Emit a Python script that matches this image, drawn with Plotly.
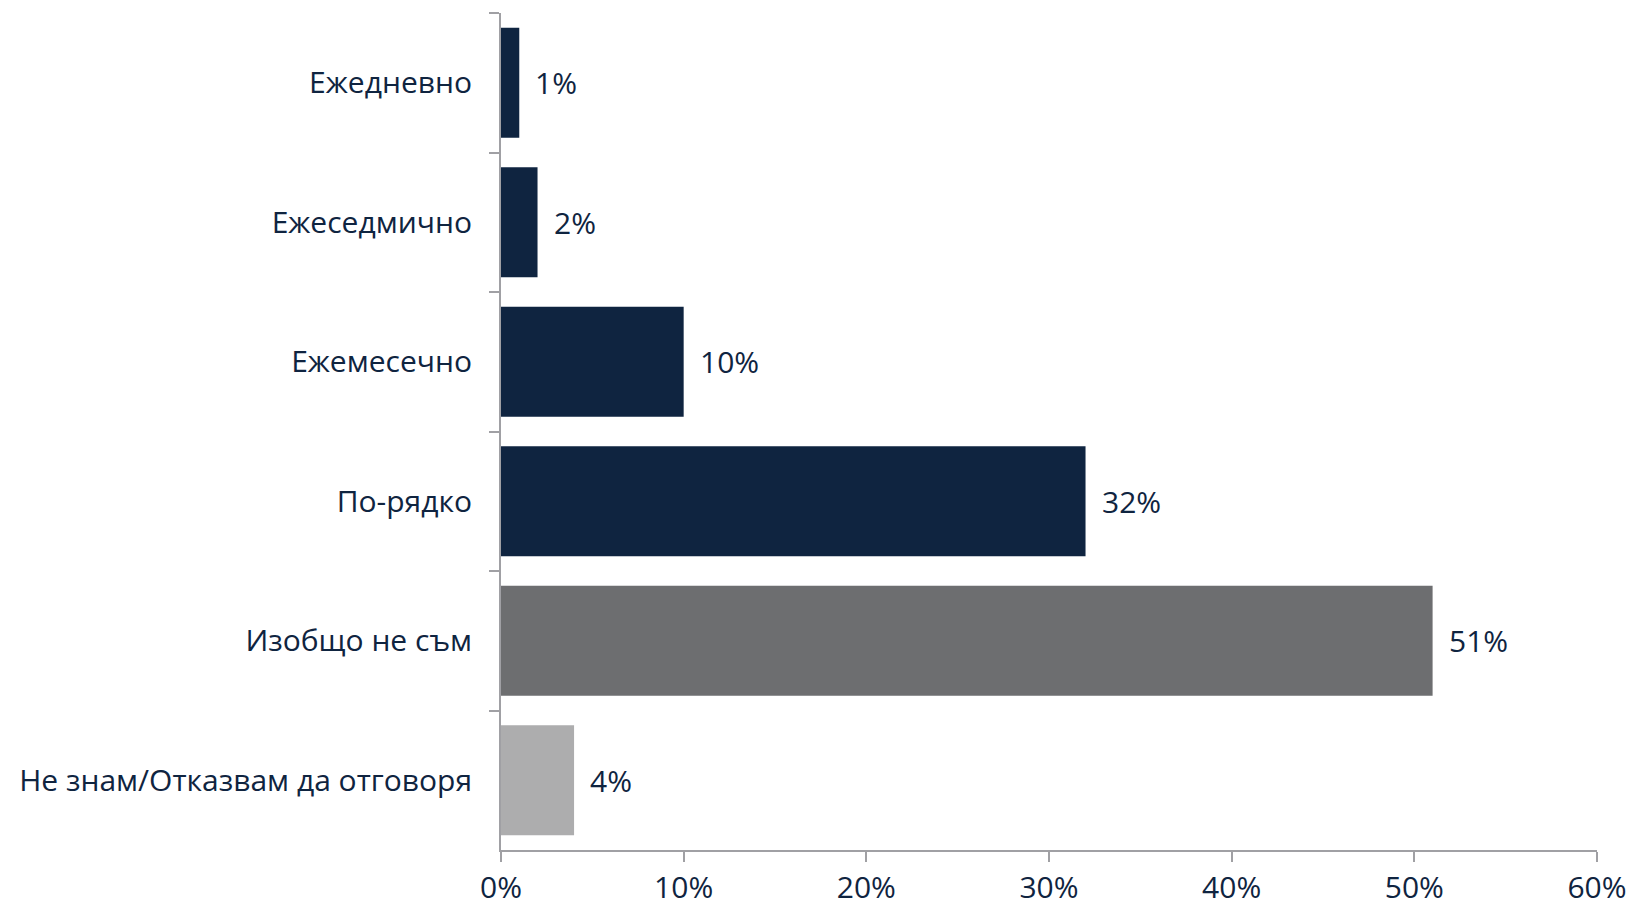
import plotly.graph_objects as go

categories = ["Ежедневно", "Ежеседмично", "Ежемесечно", "По-рядко", "Изобщо не съм", "Не знам/Отказвам да отговоря"]
values = [1, 2, 10, 32, 51, 4]
colors = ["#0F2440", "#0F2440", "#0F2440", "#0F2440", "#6D6E70", "#ADADAE"]
labels = [f"{v}%" for v in values]

TXT = "#0F2440"
AX = "#A0A0A4"
FONT = "Open Sans"
FS = 30

fig = go.Figure()
fig.add_trace(go.Bar(
    y=categories, x=[v / 100 for v in values], orientation="h",
    marker=dict(color=colors, line=dict(width=0)),
    hoverinfo="skip",
))
for c, v, t in zip(categories, values, labels):
    fig.add_annotation(x=v / 100, y=c, text=t, showarrow=False, xanchor="left",
                       xshift=14, font=dict(family=FONT, size=FS, color=TXT))

fig.update_layout(
    width=1629, height=904,
    margin=dict(l=501, r=32, t=13, b=54),
    plot_bgcolor="white", paper_bgcolor="white",
    bargap=0.21, showlegend=False,
    font=dict(family=FONT, size=FS, color=TXT),
)
fig.update_xaxes(range=[0, 0.6], dtick=0.1, tickformat=".0%", showgrid=False, zeroline=False,
                 showline=True, linecolor=AX, linewidth=2, ticks="outside", ticklen=10,
                 tickcolor=AX, tickwidth=2, automargin=False, ticklabelstandoff=0,
                 tickfont=dict(family=FONT, size=FS, color=TXT))
fig.update_yaxes(autorange="reversed", showgrid=False, showline=True, linecolor=AX, linewidth=2,
                 ticks="outside", ticklen=10, tickcolor=AX, tickwidth=2, tickson="boundaries",
                 ticklabelstandoff=21, automargin=False,
                 tickfont=dict(family=FONT, size=FS, color=TXT))

fig.write_html("out.html", config={"displayModeBar": False},
               post_script="document.body.style.margin='0';document.body.style.overflow='hidden';")
